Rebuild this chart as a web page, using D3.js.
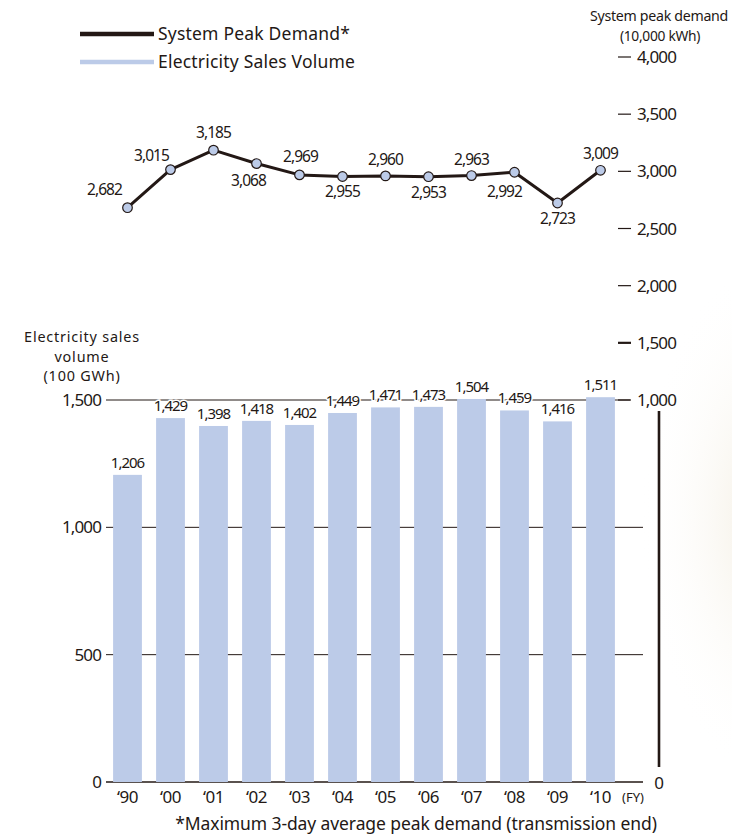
<!DOCTYPE html>
<html>
<head>
<meta charset="utf-8">
<script src="https://cdn.jsdelivr.net/npm/d3@7"></script>
<style>
  body { margin: 0; background: #fff; }
  text { font-family: "Noto Sans", sans-serif; fill: #231815; }
</style>
</head>
<body>
<script>
// data
const years = ["‘90", "‘00", "‘01", "‘02", "‘03", "‘04", "‘05", "‘06", "‘07", "‘08", "‘09", "‘10"];
const salesVolume = [1206, 1429, 1398, 1418, 1402, 1449, 1471, 1473, 1504, 1459, 1416, 1511];
const peakDemand = [2682, 3015, 3185, 3068, 2969, 2955, 2960, 2953, 2963, 2992, 2723, 3009];
const leftTicks = [0, 500, 1000, 1500];
const rightTicks = [1000, 1500, 2000, 2500, 3000, 3500, 4000];
// where each peak label sits relative to its point: [dx, dy]
const peakLabelPos = [[-23, -13], [-19, -9], [0, -12], [-8, 22], [1, -13], [0, 21], [0, -11], [0, 21], [0, -11], [-10, 25], [0, 21], [0, -11]];

const width = 732, height = 834;
const dark = "#231815", blue = "#bccbe8";
const fmt = d3.format(",");

const svg = d3.select("body").append("svg")
    .attr("width", width)
    .attr("height", height);

// faint backdrop on the right edge
const grad = svg.append("defs").append("radialGradient")
    .attr("id", "bg").attr("cx", 0.5).attr("cy", 0.5).attr("r", 0.5);
grad.append("stop").attr("offset", "0%").attr("stop-color", "#f3ede0").attr("stop-opacity", 1);
grad.append("stop").attr("offset", "100%").attr("stop-color", "#fff").attr("stop-opacity", 0);
svg.append("ellipse").attr("cx", 770).attr("cy", 520).attr("rx", 130).attr("ry", 260).attr("fill", "url(#bg)");

const x = d3.scaleBand()
    .domain(years)
    .range([106, 622])
    .paddingInner(0.33)
    .paddingOuter(0.165);

const yL = d3.scaleLinear().domain([0, 1500]).range([782, 400]);
const yR = d3.scaleLinear().domain([1000, 4000]).range([400, 57]);

// gridlines for the left axis
svg.append("g").selectAll("line")
    .data(leftTicks)
    .join("line")
    .attr("x1", 106)
    .attr("x2", d => d == 1500 ? 630 : 643)
    .attr("y1", d => yL(d))
    .attr("y2", d => yL(d))
    .attr("stroke", dark)
    .attr("stroke-width", d => d == 0 ? 1.3 : 1);

svg.append("g").selectAll("text")
    .data(leftTicks)
    .join("text")
    .attr("x", 101)
    .attr("y", d => yL(d) + 6)
    .attr("text-anchor", "end")
    .attr("font-size", 17)
    .attr("letter-spacing", -0.9)
    .text(d => d == 0 ? "0" : d3.format(",")(d));

// bars
svg.append("g").selectAll("rect")
    .data(salesVolume)
    .join("rect")
    .attr("x", (d, i) => x(years[i]))
    .attr("y", d => yL(d))
    .attr("width", x.bandwidth())
    .attr("height", d => yL(0) - yL(d))
    .attr("fill", blue);

svg.append("g").selectAll("text")
    .data(salesVolume)
    .join("text")
    .attr("x", (d, i) => x(years[i]) + x.bandwidth() / 2)
    .attr("y", d => yL(d) - 7)
    .attr("text-anchor", "middle")
    .attr("font-size", 15)
    .attr("letter-spacing", -1)
    .attr("stroke", "#fff")
    .attr("stroke-width", 3)
    .attr("paint-order", "stroke")
    .text(d => fmt(d));

// x axis labels
svg.append("g").selectAll("text")
    .data(years)
    .join("text")
    .attr("x", d => x(d) + x.bandwidth() / 2)
    .attr("y", 803)
    .attr("text-anchor", "middle")
    .attr("font-size", 17)
    .attr("letter-spacing", -0.5)
    .text(d => d);

svg.append("text")
    .attr("x", 633).attr("y", 802)
    .attr("text-anchor", "middle")
    .attr("font-size", 13)
    .text("(FY)");

// left axis title
svg.append("g").selectAll("text")
    .data(["Electricity sales", "volume", "(100 GWh)"])
    .join("text")
    .attr("x", 82)
    .attr("y", (d, i) => 342 + i * 19.7)
    .attr("text-anchor", "middle")
    .attr("font-size", 14.4)
    .attr("letter-spacing", 0.8)
    .text(d => d);

// right axis (broken between 0 and 1,000)
const rAxis = svg.append("g");
rAxis.selectAll("line")
    .data(rightTicks)
    .join("line")
    .attr("x1", 618).attr("x2", 631)
    .attr("y1", d => yR(d)).attr("y2", d => yR(d))
    .attr("stroke", dark)
    .attr("stroke-width", d => d == 1500 ? 2.2 : 1.2);
rAxis.selectAll("text")
    .data(rightTicks)
    .join("text")
    .attr("x", 637)
    .attr("y", d => yR(d) + 6)
    .attr("font-size", 17)
    .attr("letter-spacing", -0.9)
    .text(d => fmt(d));
svg.append("line")
    .attr("x1", 659).attr("x2", 659)
    .attr("y1", 411).attr("y2", 767)
    .attr("stroke", dark)
    .attr("stroke-width", 2.6);
svg.append("text")
    .attr("x", 659).attr("y", 789)
    .attr("text-anchor", "middle")
    .attr("font-size", 17)
    .text("0");
svg.append("text")
    .attr("x", 659).attr("y", 21)
    .attr("text-anchor", "middle")
    .attr("font-size", 14.2)
    .attr("letter-spacing", -0.3)
    .text("System peak demand");
svg.append("text")
    .attr("x", 660).attr("y", 41)
    .attr("text-anchor", "middle")
    .attr("font-size", 13.8)
    .attr("letter-spacing", -0.3)
    .text("(10,000 kWh)");

// peak demand line
const cx = i => x(years[i]) + x.bandwidth() / 2;
const line = d3.line()
    .x((d, i) => cx(i))
    .y(d => yR(d));

svg.append("path")
    .datum(peakDemand)
    .attr("d", line)
    .attr("fill", "none")
    .attr("stroke", dark)
    .attr("stroke-width", 3)
    .attr("stroke-linejoin", "round");

svg.append("g").selectAll("circle")
    .data(peakDemand)
    .join("circle")
    .attr("cx", (d, i) => cx(i))
    .attr("cy", d => yR(d))
    .attr("r", 4.8)
    .attr("fill", "#bccbe8")
    .attr("stroke", dark)
    .attr("stroke-width", 1.2);

svg.append("g").selectAll("text")
    .data(peakDemand)
    .join("text")
    .attr("x", (d, i) => cx(i) + peakLabelPos[i][0])
    .attr("y", (d, i) => yR(d) + peakLabelPos[i][1])
    .attr("text-anchor", "middle")
    .attr("font-size", 15.5)
    .attr("letter-spacing", -0.9)
    .text(d => fmt(d));

// legend
const legend = [["System Peak Demand*", dark], ["Electricity Sales Volume", blue]];
const lg = svg.append("g").selectAll("g")
    .data(legend)
    .join("g")
    .attr("transform", (d, i) => `translate(80,${34 + i * 28})`);
lg.append("line")
    .attr("x1", 0).attr("x2", 74)
    .attr("stroke", d => d[1])
    .attr("stroke-width", 4.5);
lg.append("text")
    .attr("x", 78).attr("y", 6)
    .attr("font-size", 17.5)
    .attr("letter-spacing", 0.2)
    .text(d => d[0]);

// footnote
svg.append("text")
    .attr("x", 416).attr("y", 830)
    .attr("text-anchor", "middle")
    .attr("font-size", 17.5)
    .attr("letter-spacing", -0.1)
    .text("*Maximum 3-day average peak demand (transmission end)");
</script>
</body>
</html>
